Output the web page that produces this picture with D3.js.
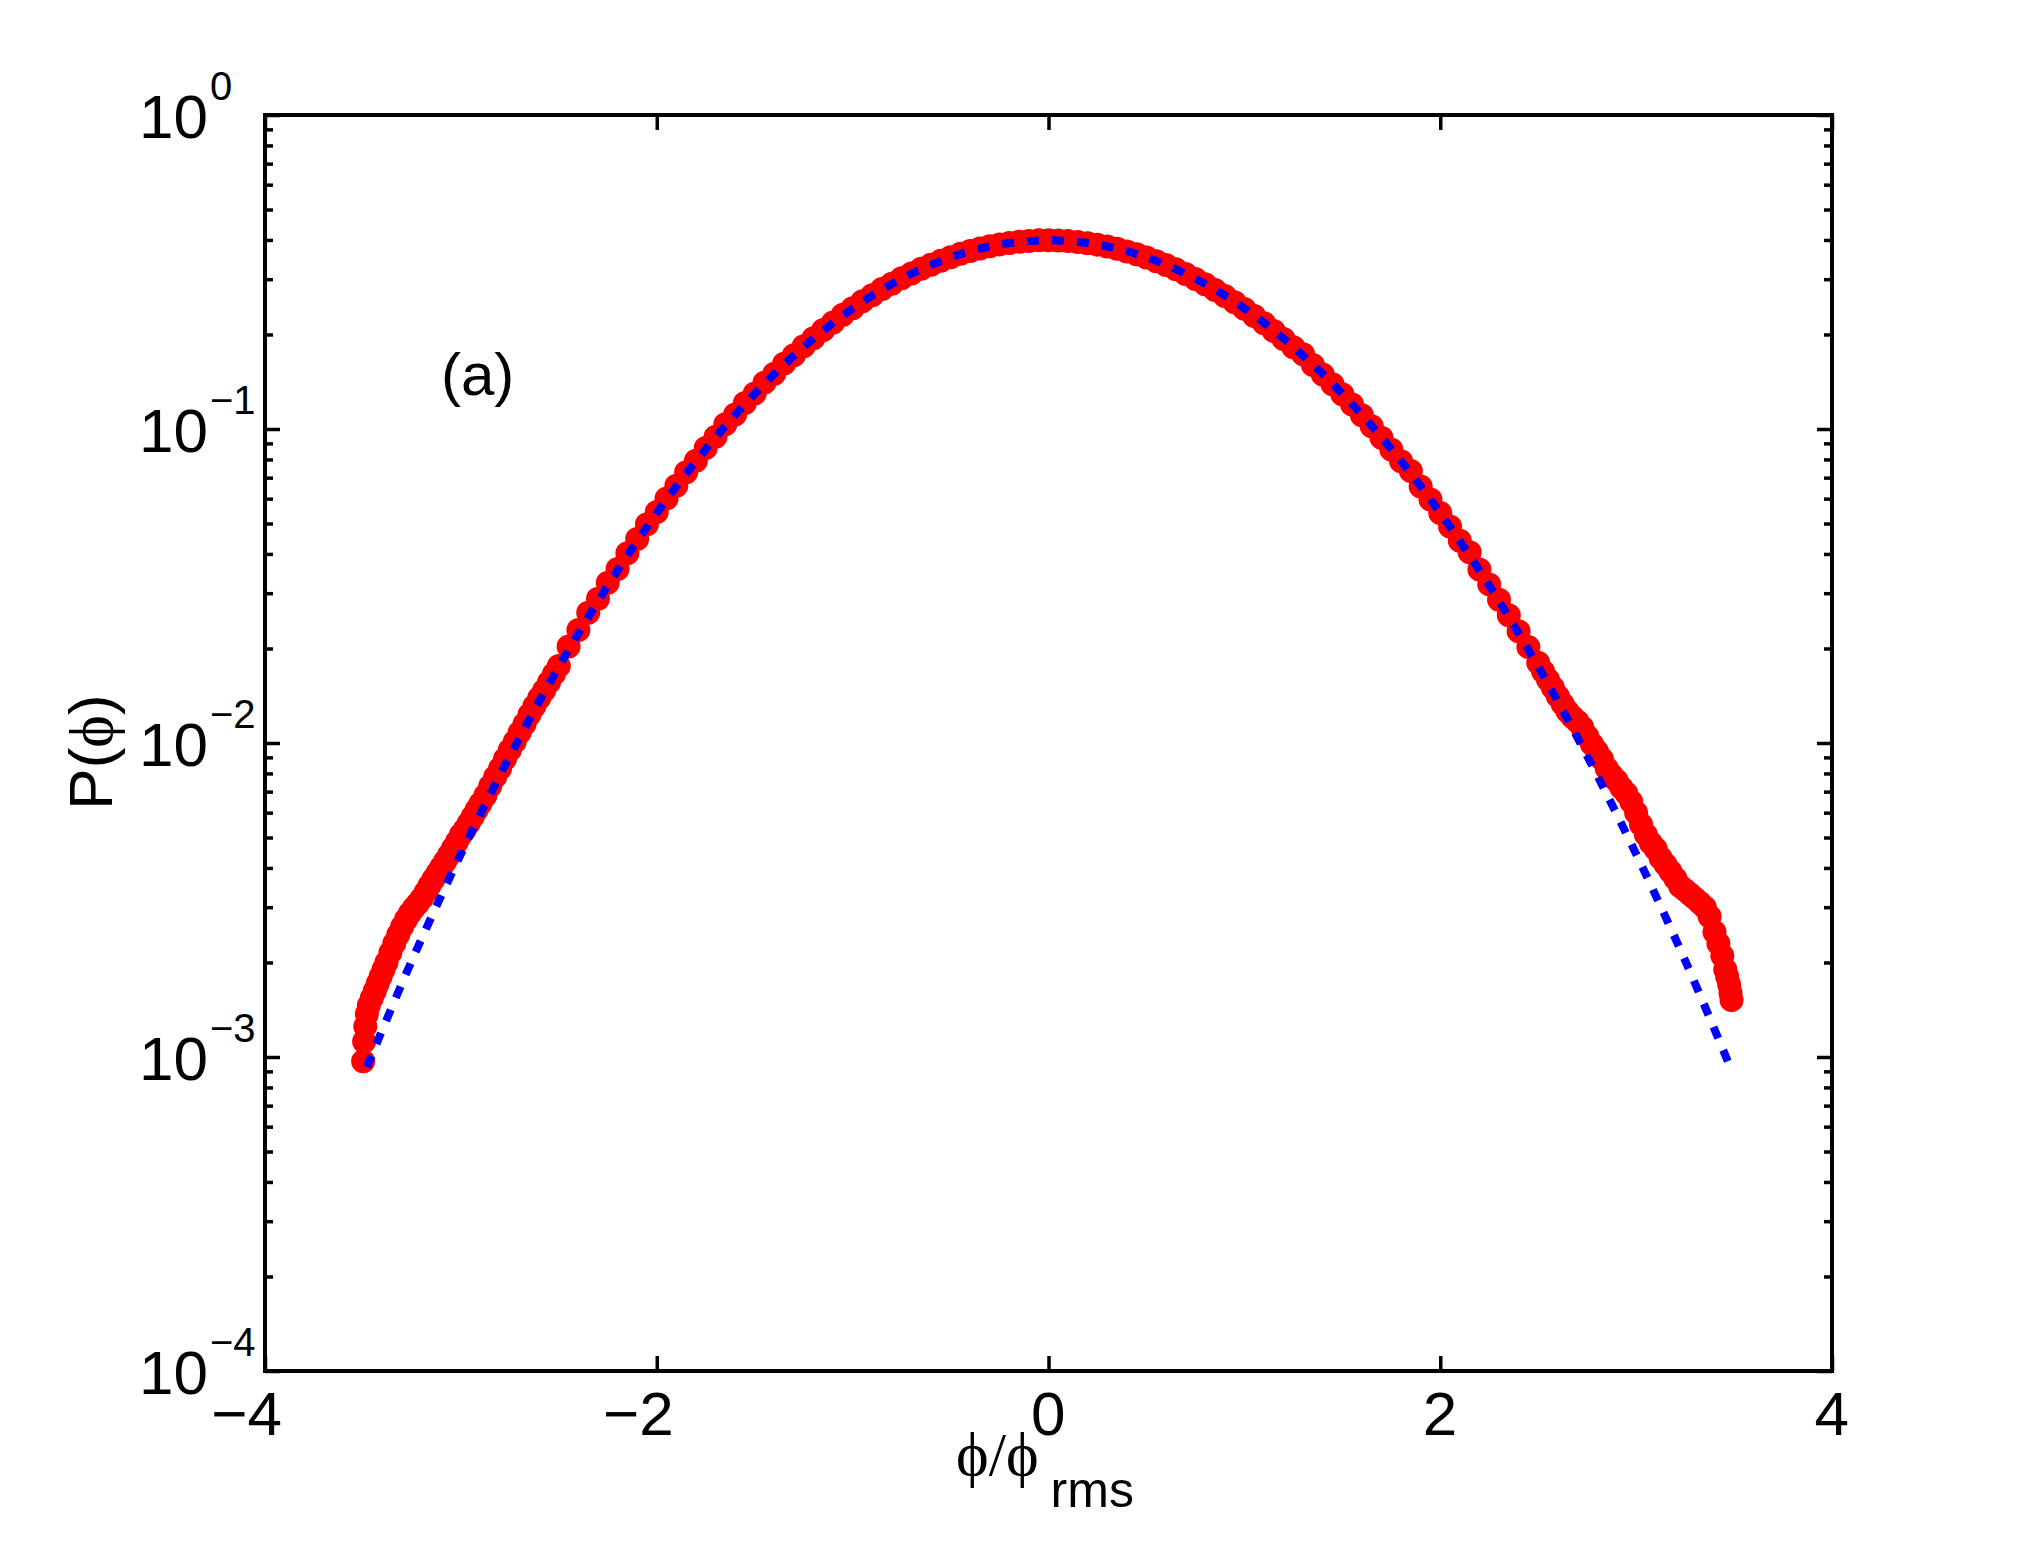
<!DOCTYPE html>
<html>
<head>
<meta charset="utf-8">
<script src="https://cdn.jsdelivr.net/npm/d3@7"></script>
<style>
  body { margin: 0; background: #fff; }
  text { font-family: "Liberation Sans", Arial, Helvetica, sans-serif; fill: #000; }
</style>
</head>
<body>
<svg id="chart" width="2025" height="1542"></svg>
<script>
const tailLeftX = [-3.499, -3.494, -3.488, -3.48, -3.47, -3.455, -3.44, -3.425, -3.41, -3.395,
    -3.38, -3.36, -3.34, -3.32, -3.30, -3.28, -3.26, -3.24, -3.22, -3.20,
    -3.18, -3.16, -3.14, -3.12, -3.10, -3.08, -3.06, -3.04, -3.02, -3.00,
    -2.98, -2.96, -2.94, -2.92, -2.90, -2.875, -2.85, -2.825, -2.80, -2.775,
    -2.75, -2.725, -2.70, -2.675, -2.65, -2.625, -2.60, -2.575, -2.55, -2.525, -2.50];
const tailLeftP = [0.00097, 0.00112, 0.00125, 0.00137, 0.00146, 0.00154, 0.00162, 0.00171, 0.00180, 0.00190,
    0.00200, 0.00215, 0.00230, 0.00245, 0.00260, 0.00274, 0.00287, 0.00298, 0.00308, 0.00320,
    0.00335, 0.00352, 0.00368, 0.00385, 0.00402, 0.00420, 0.00440, 0.00462, 0.00485, 0.00510,
    0.00530, 0.00555, 0.00582, 0.00612, 0.00642, 0.00680, 0.00730, 0.00780, 0.00830, 0.00890,
    0.00950, 0.01010, 0.01080, 0.01150, 0.01230, 0.01310, 0.01390, 0.01470, 0.01560, 0.01660, 0.01760];

const coreX = [-2.45, -2.40, -2.35, -2.30, -2.25, -2.20, -2.15, -2.10, -2.05, -2.00,
    -1.95, -1.90, -1.85, -1.80, -1.75, -1.70, -1.65, -1.60, -1.55, -1.50,
    -1.45, -1.40, -1.35, -1.30, -1.25, -1.20, -1.15, -1.10, -1.05, -1.00,
    -0.95, -0.90, -0.85, -0.80, -0.75, -0.70, -0.65, -0.60, -0.55, -0.50,
    -0.45, -0.40, -0.35, -0.30, -0.25, -0.20, -0.15, -0.10, -0.05, 0,
    0.05, 0.10, 0.15, 0.20, 0.25, 0.30, 0.35, 0.40, 0.45, 0.50,
    0.55, 0.60, 0.65, 0.70, 0.75, 0.80, 0.85, 0.90, 0.95, 1.00,
    1.05, 1.10, 1.15, 1.20, 1.25, 1.30, 1.35, 1.40, 1.45, 1.50,
    1.55, 1.60, 1.65, 1.70, 1.75, 1.80, 1.85, 1.90, 1.95, 2.00,
    2.05, 2.10, 2.15, 2.20, 2.25, 2.30, 2.35, 2.40, 2.45];
const coreP = [0.0203, 0.0229, 0.0260, 0.0288, 0.0324, 0.0358, 0.0402, 0.0446, 0.0497, 0.0544,
    0.0601, 0.0660, 0.0728, 0.0792, 0.0870, 0.0944, 0.1035, 0.1113, 0.1210, 0.1298,
    0.1405, 0.1500, 0.1615, 0.1718, 0.1836, 0.1946, 0.2068, 0.2183, 0.2310, 0.2424,
    0.2550, 0.2665, 0.2790, 0.2900, 0.3020, 0.3126, 0.3238, 0.3335, 0.3436, 0.3524,
    0.3612, 0.3686, 0.3758, 0.3817, 0.3872, 0.3913, 0.3950, 0.3972, 0.3988, 0.3990,
    0.3984, 0.3969, 0.3943, 0.3907, 0.3863, 0.3810, 0.3748, 0.3678, 0.3600, 0.3516,
    0.3424, 0.3327, 0.3224, 0.3117, 0.3005, 0.2890, 0.2773, 0.2654, 0.2534, 0.2413,
    0.2292, 0.2172, 0.2052, 0.1935, 0.1820, 0.1730, 0.1598, 0.1492, 0.1389, 0.1290,
    0.1196, 0.1106, 0.1020, 0.0938, 0.0861, 0.0789, 0.0735, 0.0656, 0.0596, 0.0540,
    0.0489, 0.0441, 0.0405, 0.0357, 0.0320, 0.0286, 0.0255, 0.0227, 0.0202];

const tailRightX = [2.50, 2.525, 2.55, 2.575, 2.60, 2.625, 2.65, 2.675, 2.70, 2.725,
    2.75, 2.775, 2.80, 2.825, 2.85, 2.875, 2.90, 2.925, 2.95, 2.975,
    3.00, 3.025, 3.05, 3.075, 3.10, 3.125, 3.15, 3.175, 3.20, 3.225,
    3.25, 3.275, 3.30, 3.325, 3.35, 3.375, 3.40, 3.42, 3.44, 3.455,
    3.465, 3.475, 3.482, 3.487];
const tailRightP = [0.0180, 0.0169, 0.0159, 0.0150, 0.0141, 0.0133, 0.0126, 0.0121, 0.0117, 0.0112,
    0.0105, 0.0099, 0.0094, 0.0089, 0.0083, 0.0079, 0.0076, 0.0072, 0.0069, 0.0065,
    0.0060, 0.0055, 0.0051, 0.0048, 0.0046, 0.0043, 0.0041, 0.0039, 0.0037, 0.0035,
    0.0034, 0.0033, 0.0032, 0.0031, 0.0030, 0.0028, 0.0025, 0.0023, 0.0021, 0.0019,
    0.0018, 0.0017, 0.0016, 0.00152];

// blue dotted curve (gaussian reference)
const blueX = [-3.48, -3.25, -3.0, -2.75, -2.5, -2.25, -2.0, -1.75, -1.5, -1.25, -1.0, -0.75, -0.5, -0.25, 0,
    0.25, 0.5, 0.75, 1.0, 1.25, 1.5, 1.75, 2.0, 2.25, 2.5, 2.75, 3.0, 3.25, 3.48];
const blueP = [0.00093, 0.00203, 0.00443, 0.00909, 0.0175, 0.0317, 0.0540, 0.0863, 0.1295, 0.1826, 0.2420, 0.3011, 0.3521, 0.3867, 0.3989,
    0.3867, 0.3521, 0.3011, 0.2420, 0.1826, 0.1295, 0.0863, 0.0540, 0.0317, 0.0175, 0.00909, 0.00443, 0.00203, 0.00093];

const xTicks = [-4, -2, 0, 2, 4];
const xTickLabels = ['\u22124', '\u22122', '0', '2', '4'];
const yTicks = [1e-4, 1e-3, 1e-2, 1e-1, 1];
const yTickExponents = ['\u22124', '\u22123', '\u22122', '\u22121', '0'];

const margin = {top: 115, right: 193, bottom: 171, left: 265};
const svg = d3.select('#chart');
const width = +svg.attr('width') - margin.left - margin.right;
const height = +svg.attr('height') - margin.top - margin.bottom;

const x = d3.scaleLinear().domain([-4, 4]).range([0, width]);
const y = d3.scaleLog().domain([1e-4, 1]).range([height, 0]);

const g = svg.append('g')
    .attr('transform', `translate(${margin.left},${margin.top})`);

const minorTicks = y.ticks().filter(d => !yTicks.some(t => Math.abs(t - d) / t < 1e-6));

function styleAxis(sel) {
    sel.select('.domain').remove();
    sel.selectAll('.tick line').attr('stroke', '#000').attr('stroke-width', 3.5);
    sel.selectAll('.tick text').remove();
}

g.append('g').attr('transform', `translate(0,${height})`)
    .call(d3.axisBottom(x).tickValues(xTicks).tickSize(-15)).call(styleAxis);
g.append('g')
    .call(d3.axisTop(x).tickValues(xTicks).tickSize(-15)).call(styleAxis);
g.append('g')
    .call(d3.axisLeft(y).tickValues(yTicks).tickSize(-15)).call(styleAxis);
g.append('g')
    .call(d3.axisLeft(y).tickValues(minorTicks).tickSize(-8)).call(styleAxis);
g.append('g').attr('transform', `translate(${width},0)`)
    .call(d3.axisRight(y).tickValues(yTicks).tickSize(-15)).call(styleAxis);
g.append('g').attr('transform', `translate(${width},0)`)
    .call(d3.axisRight(y).tickValues(minorTicks).tickSize(-8)).call(styleAxis);

// markers
const redData = d3.zip(tailLeftX.concat(coreX, tailRightX), tailLeftP.concat(coreP, tailRightP));
g.append('g')
    .selectAll('circle')
    .data(redData)
    .join('circle')
    .attr('cx', d => x(d[0]))
    .attr('cy', d => y(d[1]))
    .attr('r', 11)
    .attr('fill', '#ff0000')
    .attr('stroke', '#ff0000')
    .attr('stroke-width', 2);

const line = d3.line()
    .x(d => x(d[0]))
    .y(d => y(d[1]))
    .curve(d3.curveCatmullRom);

g.append('path')
    .datum(d3.zip(blueX, blueP))
    .attr('d', line)
    .attr('fill', 'none')
    .attr('stroke', '#0000ff')
    .attr('stroke-width', 8)
    .attr('stroke-dasharray', '12,13');

g.append('rect')
    .attr('width', width)
    .attr('height', height)
    .attr('fill', 'none')
    .attr('stroke', '#000')
    .attr('stroke-width', 4);

// tick labels
g.selectAll('.xlab')
    .data(xTicks)
    .join('text')
    .attr('class', 'xlab')
    .attr('x', d => x(d) + 17)
    .attr('y', height + 64)
    .attr('text-anchor', 'end')
    .attr('font-size', 62)
    .text((d, i) => xTickLabels[i]);

const ylab = g.selectAll('.ylab')
    .data(yTicks)
    .join('text')
    .attr('class', 'ylab')
    .attr('x', -126)
    .attr('y', d => y(d) + 23)
    .attr('font-size', 62);
ylab.append('tspan').text('10');
ylab.append('tspan')
    .attr('dx', 2)
    .attr('dy', -38)
    .attr('font-size', 40)
    .text((d, i) => yTickExponents[i]);

// axis labels
const xlabel = svg.append('text')
    .attr('x', 1045)
    .attr('y', 1475)
    .attr('text-anchor', 'middle')
    .attr('font-size', 62);
xlabel.append('tspan')
    .style('font-family', '"Liberation Serif", "DejaVu Serif", serif')
    .text('\u03d5/\u03d5');
xlabel.append('tspan')
    .attr('dx', 12)
    .attr('dy', 32)
    .attr('font-size', 50)
    .text('rms');

const ylabel = svg.append('text')
    .attr('transform', 'translate(112,752) rotate(-90)')
    .attr('text-anchor', 'middle')
    .attr('font-size', 62);
ylabel.append('tspan').text('P(');
ylabel.append('tspan')
    .style('font-family', '"Liberation Serif", "DejaVu Serif", serif')
    .text('\u03d5');
ylabel.append('tspan').text(')');

svg.append('text')
    .attr('x', 441)
    .attr('y', 395)
    .attr('font-size', 60)
    .text('(a)');
</script>
</body>
</html>
